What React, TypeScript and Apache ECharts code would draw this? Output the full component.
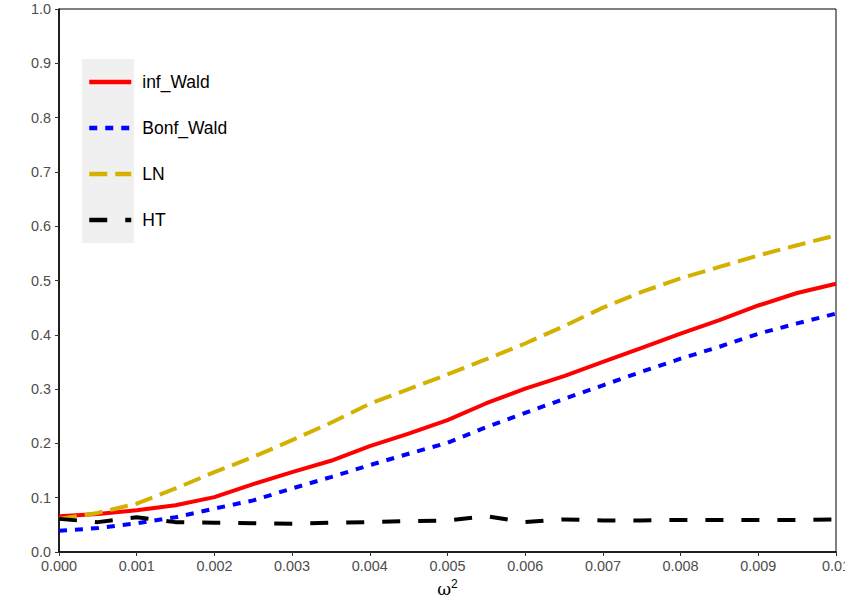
import React, { useEffect, useRef } from "react";
import * as echarts from "echarts";

const omega2 = [
  0, 0.0005, 0.001, 0.0015, 0.002, 0.0025, 0.003, 0.0035, 0.004, 0.0045, 0.005,
  0.0055, 0.006, 0.0065, 0.007, 0.0075, 0.008, 0.0085, 0.009, 0.0095, 0.01,
];
const infWald = [
  0.066, 0.07, 0.077, 0.086, 0.101, 0.125, 0.147, 0.168, 0.195, 0.218, 0.243,
  0.274, 0.301, 0.324, 0.35, 0.376, 0.402, 0.427, 0.454, 0.477, 0.494,
];
const bonfWald = [
  0.039, 0.044, 0.053, 0.064, 0.08, 0.095, 0.117, 0.138, 0.16, 0.181, 0.201,
  0.23, 0.256, 0.282, 0.307, 0.332, 0.356, 0.378, 0.402, 0.421, 0.439,
];
const lnVals = [
  0.061, 0.072, 0.089, 0.117, 0.147, 0.175, 0.206, 0.238, 0.273, 0.3, 0.327,
  0.355, 0.384, 0.416, 0.45, 0.479, 0.504, 0.525, 0.546, 0.565, 0.583,
];
const htVals = [
  0.061, 0.055, 0.064, 0.055, 0.054, 0.053, 0.052, 0.054, 0.055, 0.057, 0.058,
  0.066, 0.055, 0.06, 0.058, 0.058, 0.059, 0.059, 0.059, 0.059, 0.06,
];
const seriesNames = ["inf_Wald", "Bonf_Wald", "LN", "HT"];

export default function App() {
  const ref = useRef<HTMLDivElement>(null);
  useEffect(() => {
    if (!ref.current) return;
    const chart = echarts.init(ref.current, undefined, { renderer: "svg" });
    const pairs = (ys: number[]) => omega2.map((x, i) => [x, ys[i]]);
    const font = "Liberation Sans, Arial, Helvetica, sans-serif";
    const mk = (name: string, ys: number[], color: string, type: any) => ({
      name,
      type: "line",
      data: pairs(ys),
      symbol: "none",
      showSymbol: false,
      lineStyle: { color, width: 4, type, cap: "butt" },
      itemStyle: { color },
    });
    chart.setOption({
      animation: false,
      backgroundColor: "#ffffff",
      textStyle: { fontFamily: font },
      grid: {
        left: 59,
        right: 9,
        top: 9,
        bottom: 58,
        containLabel: false,
        outerBoundsMode: "none",
        show: true,
        borderColor: "#000",
        borderWidth: 1,
        backgroundColor: "transparent",
      },
      graphic: [
        {
          type: "rect",
          z: -10,
          shape: { x: 82, y: 59, width: 52, height: 184 },
          style: { fill: "#f0f0f0" },
        },
      ],
      legend: {
        orient: "vertical",
        left: 87,
        top: 73,
        padding: 0,
        itemWidth: 42,
        itemHeight: 16,
        itemGap: 28,
        data: seriesNames,
        itemStyle: { opacity: 0 },
        lineStyle: { width: 4.5 },
        formatter: "{t|{name}}",
        textStyle: {
          fontFamily: font,
          fontSize: 17.5,
          color: "#000",
          rich: {
            t: {
              fontFamily: font,
              fontSize: 17.5,
              color: "#000",
              padding: [0, 0, 0, 6],
            },
          },
        },
      },
      xAxis: {
        type: "value",
        min: 0,
        max: 0.01,
        interval: 0.001,
        name: "ω{sup|2}",
        nameLocation: "middle",
        nameGap: 26,
        nameTextStyle: {
          fontFamily: "DejaVu Serif, serif",
          fontSize: 17,
          color: "#000",
          rich: {
            sup: {
              fontFamily: font,
              fontSize: 12,
              color: "#000",
              verticalAlign: "top",
              padding: [0, 0, 10, 0],
            },
          },
        },
        splitLine: { show: false },
        axisLine: { show: true, lineStyle: { color: "#000", width: 1.5 } },
        axisTick: { show: true, length: 4, lineStyle: { color: "#333" } },
        axisLabel: {
          color: "#4d4d4d",
          fontSize: 14.4,
          margin: 7,
          formatter: (v: number) =>
            Math.abs(v - 0.01) < 1e-9 ? "0.01" : v.toFixed(3),
        },
      },
      yAxis: {
        type: "value",
        min: 0,
        max: 1,
        interval: 0.1,
        splitLine: { show: false },
        axisLine: { show: true, lineStyle: { color: "#000", width: 1.5 } },
        axisTick: { show: true, length: 4, lineStyle: { color: "#333" } },
        axisLabel: {
          color: "#4d4d4d",
          fontSize: 14.4,
          margin: 8,
          formatter: (v: number) => v.toFixed(1),
        },
      },
      series: [
        mk("inf_Wald", infWald, "#ff0000", "solid"),
        mk("Bonf_Wald", bonfWald, "#0000ff", [8, 8]),
        mk("LN", lnVals, "#d4b000", [18, 8]),
        mk("HT", htVals, "#000000", [18, 18]),
      ],
    });
    return () => chart.dispose();
  }, []);
  return (
    <div
      ref={ref}
      style={{ position: "fixed", left: 0, top: 0, width: 845, height: 610 }}
    />
  );
}
